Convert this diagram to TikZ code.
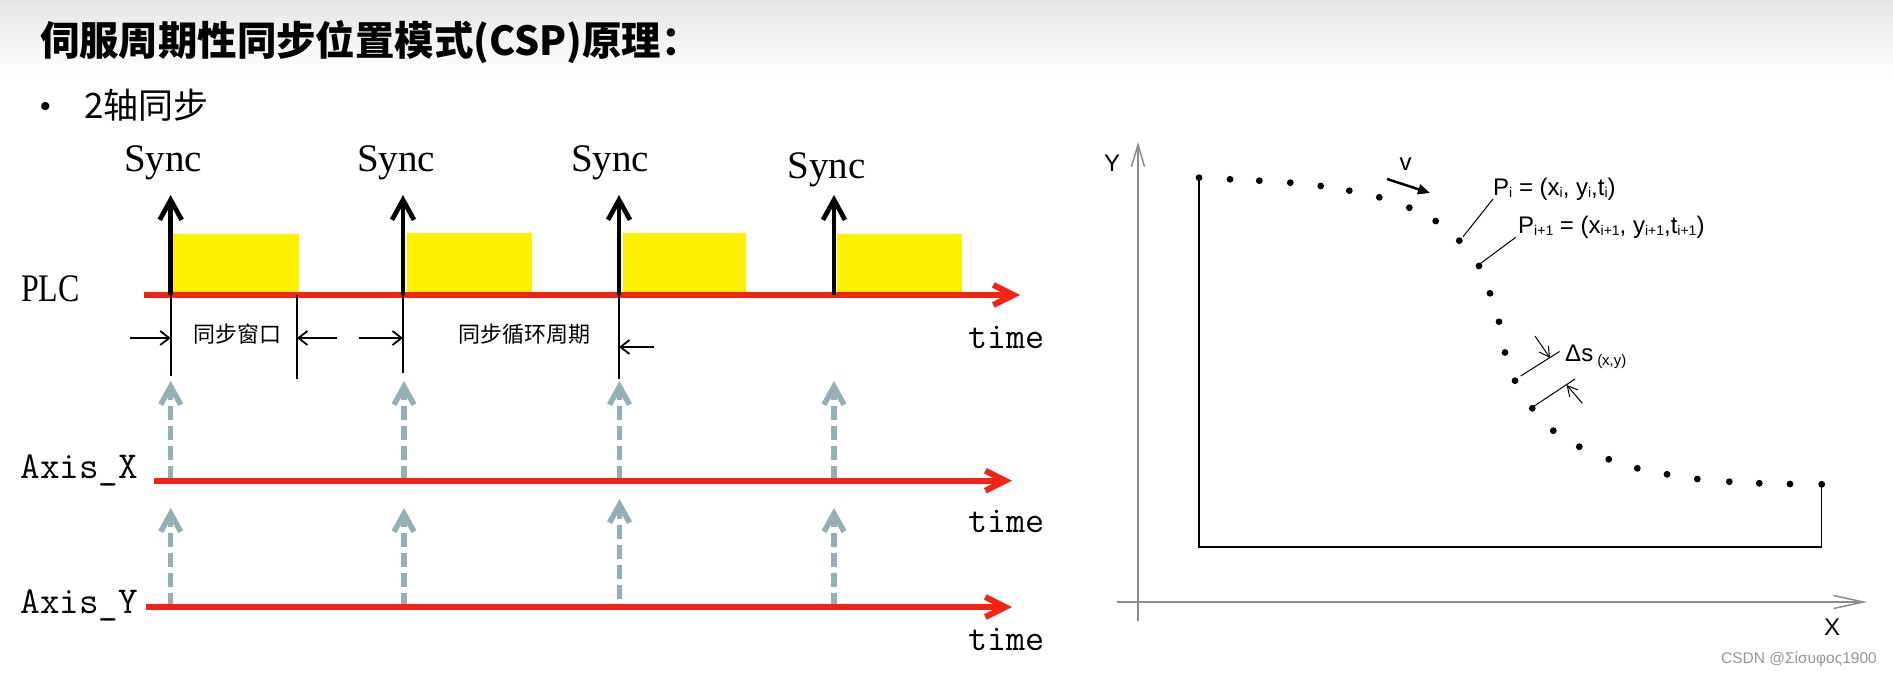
\documentclass[tikz,border=0pt]{standalone}
\usepackage{fontspec}
\usetikzlibrary{arrows.meta}
\newfontfamily\cjk{Noto Sans CJK SC}
\newfontfamily\serifLS{Liberation Serif}
\newfontfamily\arialLS{Liberation Sans}
\newcommand\setfs[1]{\fontsize{#1}{#1}\selectfont}
\newcommand\sbs[1]{\raisebox{-0.2ex}{\setfs{14}#1}}
\definecolor{plcred}{RGB}{245,35,20}
\definecolor{dashblue}{RGB}{150,175,181}
\definecolor{syncyellow}{RGB}{255,240,0}
\definecolor{axisgray}{RGB}{140,140,140}
\definecolor{wmgray}{RGB}{150,150,150}
\tikzset{
  timeline/.style={line width=6pt, draw=plcred, -{Straight Barb[length=20pt,width=20pt]}},
  syncarrow/.style={line width=4.7pt, draw=black, -{Straight Barb[length=20pt,width=22pt]}},
  window/.style={fill=syncyellow, draw=none},
  tickline/.style={line width=2pt, draw=black},
  markarrow/.style={line width=1.8pt, draw=black, -{Straight Barb[length=9pt,width=14pt]}},
  axisdash/.style={line width=5.5pt, draw=dashblue, dash pattern=on 14pt off 6pt, -{Straight Barb[length=18pt,width=20pt]}},
  synclabel/.style={font=\serifLS\setfs{39}, inner sep=0pt, anchor=base west},
  monolabel/.style={font=\ttfamily\setfs{38}, inner sep=0pt, anchor=base west},
  timelabel/.style={font=\ttfamily\setfs{37}, inner sep=0pt, anchor=base west},
  cjklabel/.style={font=\cjk\setfs{22}, inner sep=0pt},
  gaxis/.style={line width=1.5pt, draw=axisgray},
  frameline/.style={line width=1.4pt, draw=black},
  pathdot/.style={circle, fill=black, inner sep=0pt, minimum size=6.8pt},
  leader/.style={line width=1pt, draw=black},
  varrow/.style={line width=2.5pt, draw=black, -{Triangle[length=12pt,width=10pt]}},
  dimarrow/.style={line width=1pt, draw=black, -{Straight Barb[length=10pt,width=11pt]}},
  arial/.style={font=\arialLS\setfs{24}, inner sep=0pt},
}
\begin{document}
\begin{tikzpicture}[x=1pt,y=-1pt]
\useasboundingbox (0,0) rectangle (1893,675);
\fill[white] (0,0) rectangle (1893,675);
\shade[top color=black!10, bottom color=white] (0,0) rectangle (1893,75);

% title
\node[font=\cjk\bfseries\setfs{40}, inner sep=0pt, anchor=base west, xscale=0.985] (title) at (40,55) {伺服周期性同步位置模式(CSP)原理：};
\node[font=\arialLS\setfs{30}, inner sep=0pt, anchor=base west] (bullet) at (40,116) {•};
\node[font=\cjk\setfs{35}, inner sep=0pt, anchor=base west] (sub) at (84,118) {2轴同步};

% ---------- left timing diagram ----------
\fill[window] (173,234) rectangle (299,292);
\fill[window] (407,233) rectangle (532,292);
\fill[window] (623,233) rectangle (746,292);
\fill[window] (837,234) rectangle (962,292);

% dashed axis arrows
\foreach \x/\n in {170.7/1,404/2,619.5/3,834/4}{
  \coordinate (xb\n) at (\x,480);
  \coordinate (xt\n) at (\x,381);
  \draw[axisdash] (xb\n) -- (xt\n);
}
\foreach \x/\n/\b/\t in {170.7/1/607/508,404/2/607/508,619.5/3/599/499,834/4/607/508}{
  \coordinate (yb\n) at (\x,\b);
  \coordinate (yt\n) at (\x,\t);
  \draw[axisdash] (yb\n) -- (yt\n);
}

% time lines
\coordinate (plcS) at (144,295);   \coordinate (plcE) at (1020,295);
\coordinate (axS) at (154,480.7);  \coordinate (axE) at (1012,480.7);
\coordinate (ayS) at (146,607);    \coordinate (ayE) at (1012,607);
\draw[timeline] (plcS) -- (plcE);
\draw[timeline] (axS) -- (axE);
\draw[timeline] (ayS) -- (ayE);

% sync arrows
\foreach \x/\n in {170.7/1,403/2,619/3,834/4}{
  \coordinate (sb\n) at (\x,295);
  \coordinate (st\n) at (\x,195);
  \draw[syncarrow] (sb\n) -- (st\n);
}
\node[synclabel] (sync1) at (124,171) {Sync};
\node[synclabel] (sync2) at (357,171) {Sync};
\node[synclabel] (sync3) at (571,171) {Sync};
\node[synclabel] (sync4) at (787.5,178) {Sync};

% labels
\node[font=\serifLS\setfs{39}, inner sep=0pt, anchor=base west, xscale=0.82] (plc) at (21,301.7) {PLC};
\node[monolabel] (axx) at (20.5,478) {Axis\_X};
\node[monolabel] (axy) at (20.5,613) {Axis\_Y};
\node[timelabel] (time1) at (968,348) {time};
\node[timelabel] (time2) at (968,532) {time};
\node[timelabel] (time3) at (968,650) {time};

% window / cycle markers
\coordinate (k1a) at (170.7,295); \coordinate (k1b) at (170.7,376);
\coordinate (k2a) at (297,295);   \coordinate (k2b) at (297,379);
\coordinate (k3a) at (403,295);   \coordinate (k3b) at (403,373);
\coordinate (k4a) at (619,295);   \coordinate (k4b) at (619,379);
\draw[tickline] (k1a) -- (k1b);
\draw[tickline] (k2a) -- (k2b);
\draw[tickline] (k3a) -- (k3b);
\draw[tickline] (k4a) -- (k4b);
\coordinate (m1s) at (130,338); \coordinate (m1e) at (170.7,338);
\coordinate (m2s) at (337,338); \coordinate (m2e) at (297,338);
\coordinate (m3s) at (359,338); \coordinate (m3e) at (403,338);
\coordinate (m4s) at (654,347); \coordinate (m4e) at (619,347);
\draw[markarrow] (m1s) -- (m1e);
\draw[markarrow] (m2s) -- (m2e);
\draw[markarrow] (m3s) -- (m3e);
\draw[markarrow] (m4s) -- (m4e);
\node[cjklabel] (win) at (237.5,334) {同步窗口};
\node[cjklabel] (cyc) at (524.5,334) {同步循环周期};

% ---------- right trajectory diagram ----------
\coordinate (yax0) at (1138,621); \coordinate (yax1) at (1138,142);
\coordinate (xax0) at (1117,602); \coordinate (xax1) at (1867,602);
\draw[gaxis, -{Straight Barb[length=22pt,width=13pt]}] (yax0) -- (yax1);
\draw[gaxis, -{Straight Barb[length=30pt,width=13pt]}] (xax0) -- (xax1);
\node[arial] (ylab) at (1112,163) {Y};
\node[arial] (xlab) at (1832,627) {X};

\foreach \px/\py [count=\i] in {1199/177.7,1230/179.3,1259.3/180.7,1290.3/182.7,1320.7/186,1349.3/190.7,1379.3/197.3,1409.3/207.7,1435.7/221,1459.3/240.7,1479/266,1490/293.3,1499/321.7,1505/352.5,1515/380.7,1532.3/408.3,1553.3/430.7,1579.3/446.7,1608.7/459.3,1637.3/468.3,1667/474.3,1697.3/479,1729.3/481.7,1759.3/483.3,1790/484,1821.7/484.3}{
  \node[pathdot] (d\i) at (\px,\py) {};
}
\coordinate (fbl) at (1199,547);
\coordinate (fbr) at (1821.7,547);
\draw[frameline] (d1.center) -- (fbl) -- (fbr) -- (d26.center);

% velocity
\coordinate (va) at (1387,179); \coordinate (vb) at (1430,193);
\draw[varrow] (va) -- (vb);
\node[arial] (vlab) at (1405.5,164) {v};

% point labels
\node[arial, anchor=base west] (pi) at (1493,195) {P\sbs{i} = (x\sbs{i}, y\sbs{i},t\sbs{i})};
\node[arial, anchor=base west] (pi1) at (1518,233) {P\sbs{i+1} = (x\sbs{i+1}, y\sbs{i+1},t\sbs{i+1})};
\coordinate (l1a) at (1493,199); \coordinate (l1b) at (1463,236.7);
\coordinate (l2a) at (1515.7,237.3); \coordinate (l2b) at (1480.7,263.3);
\draw[leader] (l1a) -- (l1b);
\draw[leader] (l2a) -- (l2b);

% delta s
\coordinate (e1a) at (1520.7,376); \coordinate (e1b) at (1559.5,351.5);
\coordinate (e2a) at (1532.3,407.3); \coordinate (e2b) at (1575,379);
\draw[leader] (e1a) -- (e1b);
\draw[leader] (e2a) -- (e2b);
\coordinate (a1s) at (1535,336); \coordinate (a1e) at (1550,358);
\coordinate (a2s) at (1582.3,403.3); \coordinate (a2e) at (1566.7,385);
\draw[dimarrow] (a1s) -- (a1e);
\draw[dimarrow] (a2s) -- (a2e);
\node[arial, anchor=base west] (ds) at (1565,361.7) {Δs\,\raisebox{-0.3ex}{\setfs{15}(x,y)}};

% watermark
\node[font=\arialLS\setfs{15.5}, text=wmgray, inner sep=0pt, anchor=base east] (wm) at (1877,663) {CSDN @Σίσυφος1900};
\end{tikzpicture}
\end{document}
